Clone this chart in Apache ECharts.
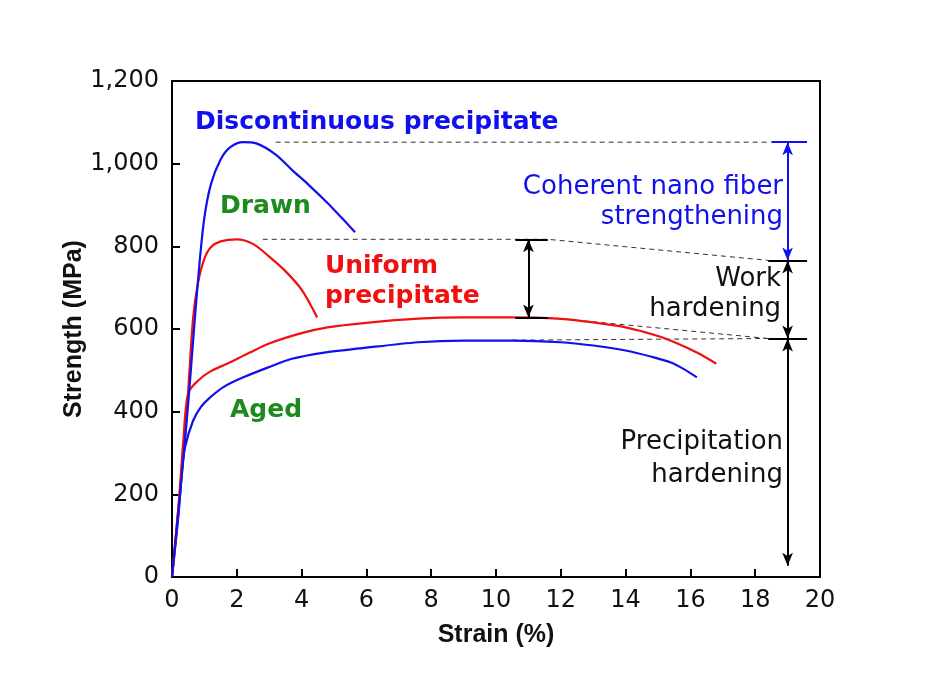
<!DOCTYPE html>
<html>
<head>
<meta charset="utf-8">
<script src="https://cdn.jsdelivr.net/npm/echarts@6/dist/echarts.min.js"></script>
<style>
  html, body { margin: 0; padding: 0; background: #fff; }
  #main { width: 952px; height: 692px; }
</style>
</head>
<body>
<div id="main"></div>
<script>
// strain (%) , strength (MPa)
const drawnDiscontinuous = [[0,0],[0.25,200],[0.5,420],[0.7,620],[0.85,760],[1.0,870],[1.2,950],[1.5,1010],[1.8,1040],[2.2,1052],[2.6,1049],[3.2,1022],[3.7,985],[4.2,950],[4.8,905],[5.2,872],[5.65,834]];
const drawnUniform = [[0,0],[0.2,170],[0.4,340],[0.5,450],[0.65,625],[0.8,710],[1.0,770],[1.2,798],[1.5,812],[2.0,817],[2.5,806],[3.0,775],[3.5,740],[4.0,695],[4.48,628]];
const agedUniform = [[0,0],[0.2,170],[0.35,330],[0.5,445],[0.8,475],[1.2,498],[1.7,516],[2.4,543],[3.0,565],[4.0,590],[4.8,604],[6.0,615],[7.6,625],[9.0,628],[10.5,628],[11.9,625],[13.0,616],[14.0,604],[15.0,583],[15.6,565],[16.2,543],[16.8,516]];
const agedDiscontinuous = [[0,0],[0.2,150],[0.3,250],[0.4,313],[0.65,378],[0.9,412],[1.17,434],[1.6,460],[2.2,483],[3.0,508],[3.7,528],[4.7,543],[5.8,553],[7.6,568],[9.0,572],[10.5,572],[12.0,568],[13.0,560],[14.0,548],[14.8,533],[15.4,519],[15.8,503],[16.2,483]];

const xTicks = [0,2,4,6,8,10,12,14,16,18,20];
const yTicks = [0,200,400,600,800,1000,1200];

// annotation guide lines
const guideTop = [[3.2,1052],[18.4,1052]];
const guideMid = [[2.8,817],[11.6,817],[18.4,766]];
const guideLow1 = [[11.6,628],[18.4,577]];
const guideLow2 = [[10.5,573],[18.4,577]];

// labels
const labels = [
  {x:0.71, y:1100, text:'Discontinuous precipitate', color:'#1010ee', bold:true, align:'left'},
  {x:1.48, y:897, text:'Drawn', color:'#1e8a1e', bold:true, align:'left'},
  {x:4.72, y:714, text:'Uniform\nprecipitate', color:'#f01010', bold:true, align:'left'},
  {x:1.79, y:402, text:'Aged', color:'#1e8a1e', bold:true, align:'left'},
  {x:18.86, y:907, text:'Coherent nano fiber\nstrengthening', color:'#1010ee', bold:false, align:'right'},
  {x:18.8, y:684, text:'Work\nhardening', color:'#111', bold:false, align:'right'},
  {x:18.86, y:286, text:'Precipitation\nhardening', color:'#111', bold:false, align:'right'}
];

const BLUE = '#1010ee', RED = '#f01010';
const font = 'DejaVu Sans, Verdana, sans-serif';
const titleFont = 'Liberation Sans, Arial, sans-serif';

function curve(name, data, color) {
  return { name, type:'line', data, smooth:0.3, symbol:'none', lineStyle:{color, width:2.2}, z:3 };
}
function dashed(data) {
  return { type:'line', data, symbol:'none', lineStyle:{color:'#333', width:1, type:[5,4]}, z:2 };
}
function arrow(x, y1, y2, color) {
  return [{coord:[x,y1], lineStyle:{color}}, {coord:[x,y2]}];
}
function tick(x1, x2, y, color) {
  return [{coord:[x1,y], lineStyle:{color}, symbol:'none'}, {coord:[x2,y], symbol:'none'}];
}

const chart = echarts.init(document.getElementById('main'));
chart.setOption({
  animation: false,
  backgroundColor: '#fff',
  grid: { left:172, right:132, top:81, bottom:115, show:true, borderColor:'#000', borderWidth:2 },
  xAxis: {
    type:'value', min:0, max:20, interval:2,
    name:'Strain (%)', nameLocation:'middle', nameGap:46,
    nameTextStyle:{fontFamily:titleFont, fontSize:25, fontWeight:'bold', color:'#111'},
    axisLine:{lineStyle:{color:'#000', width:2}},
    axisTick:{inside:true, length:8, lineStyle:{color:'#000', width:2}},
    axisLabel:{fontFamily:font, fontSize:24, color:'#111', margin:12,
      formatter: v => xTicks.includes(v) ? String(v) : ''},
    splitLine:{show:false}
  },
  yAxis: {
    type:'value', min:0, max:1200, interval:200,
    name:'Strength (MPa)', nameLocation:'middle', nameGap:85, nameMoveOverlap:false,
    nameTextStyle:{fontFamily:titleFont, fontSize:25, fontWeight:'bold', color:'#111'},
    axisLine:{lineStyle:{color:'#000', width:2}},
    axisTick:{inside:true, length:8, lineStyle:{color:'#000', width:2}},
    axisLabel:{fontFamily:font, fontSize:24, color:'#111', margin:13,
      formatter: v => yTicks.includes(v) ? v.toLocaleString('en-US') : ''},
    splitLine:{show:false}
  },
  series: [
    dashed(guideTop), dashed(guideMid), dashed(guideLow1), dashed(guideLow2),
    curve('Aged discontinuous', agedDiscontinuous, BLUE),
    curve('Aged uniform', agedUniform, RED),
    curve('Drawn uniform', drawnUniform, RED),
    curve('Drawn discontinuous', drawnDiscontinuous, BLUE),
    {
      type:'line', data:[], z:4,
      markLine: {
        silent:true, animation:false,
        symbol:['arrow','arrow'], symbolSize:[8,13],
        label:{show:false},
        lineStyle:{type:'solid', width:2, color:'#000'},
        data: [
          tick(18.5, 19.6, 1052, BLUE),
          tick(18.4, 19.6, 766, '#000'),
          tick(18.4, 19.6, 577, '#000'),
          tick(10.6, 11.6, 817, '#000'),
          tick(10.6, 11.6, 628, '#000'),
          arrow(19.0, 1052, 766, BLUE),
          arrow(19.0, 766, 577, '#000'),
          arrow(19.0, 577, 27, '#000'),
          arrow(11.0, 817, 628, '#000')
        ]
      }
    }
  ]
});

// text annotations placed through the axes' scales
chart.setOption({
  graphic: labels.map(l => {
    const p = chart.convertToPixel({gridIndex:0}, [l.x, l.y]);
    return {
      type:'text', x:p[0], y:p[1], z:10,
      style:{
        text:l.text, fill:l.color,
        font:(l.bold ? 'bold 25px ' : '26px ') + font,
        align:l.align, verticalAlign:'middle',
        lineHeight: l.text.startsWith('Precip') ? 33 : 30
      }
    };
  })
});
</script>
</body>
</html>
